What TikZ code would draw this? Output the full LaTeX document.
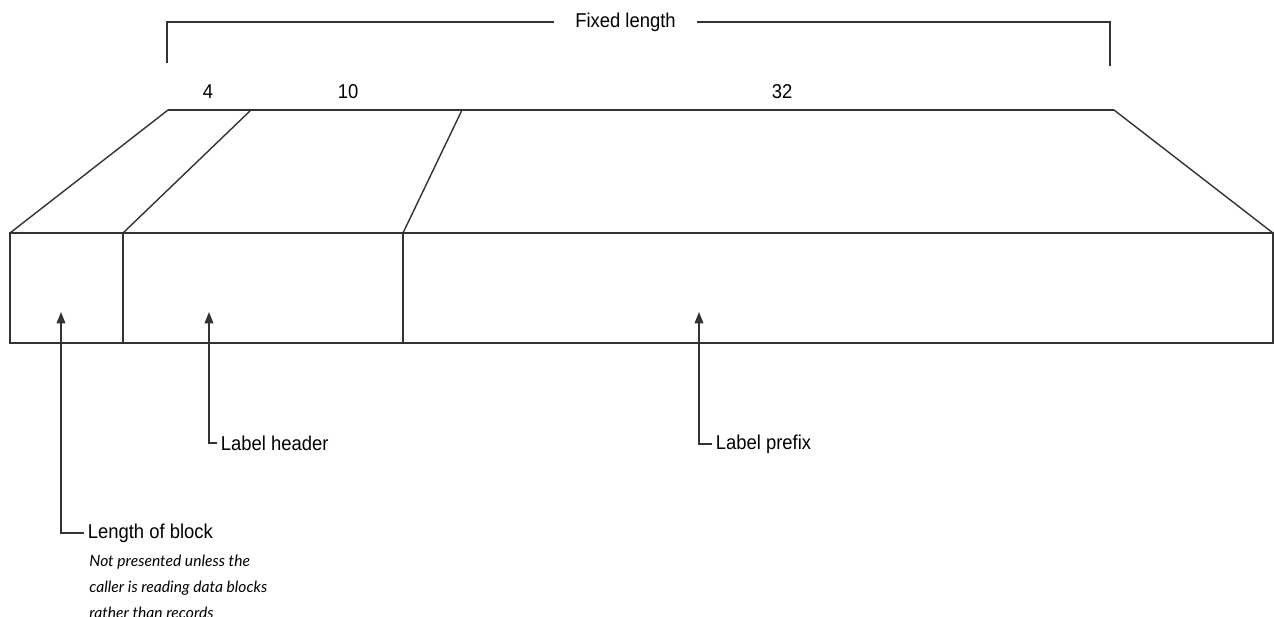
\documentclass[tikz,border=0pt]{standalone}
\usepackage{fontspec}
\setmainfont{Liberation Sans}[FakeStretch=0.92]
\newfontfamily\notefont{Lato}
\usetikzlibrary{arrows.meta,positioning}

\begin{document}
\begin{tikzpicture}[every node/.style={font=\fontsize{11.4}{13}\selectfont, inner sep=2pt},
    frame/.style={draw=black!80, line width=0.8pt},
    leader/.style={draw=black!80, line width=0.8pt, -{Triangle[width=5pt,length=6.5pt]}},
    note/.style={font=\notefont\itshape\fontsize{8.9}{14.8}\selectfont, align=left}]
    \useasboundingbox (0,0) rectangle (25.48,12.32);

    % --- СКОБКА ФИКСИРОВАННОЙ ДЛИНЫ ---
    \node[inner xsep=12pt] (fixed) at (12.51,11.88) {Fixed length};
    \coordinate (brL) at (3.34,11.06);   % Левый конец скобки
    \coordinate (brR) at (22.2,11.0);    % Правый конец скобки
    \draw[frame] (brL) |- (fixed.west);
    \draw[frame] (brR) |- (fixed.east);

    % --- ДЛИНЫ ПОЛЕЙ ---
    \node (len4) at (4.16,10.48) {4};
    \node (len10) at (6.96,10.48) {10};
    \node (len32) at (15.64,10.48) {32};

    % --- ВЕРХНЯЯ ГРАНЬ ---
    \coordinate (t0) at (3.36,10.12);
    \coordinate (t1) at (5.02,10.12);
    \coordinate (t2) at (9.24,10.12);
    \coordinate (t3) at (22.28,10.12);
    % Углы блока
    \coordinate (b0) at (0.2,7.66);
    \coordinate (b1) at (2.46,7.66);
    \coordinate (b2) at (8.06,7.66);
    \coordinate (b3) at (25.46,7.66);
    \draw[frame] (t0) -- (t3);
    \foreach \i in {0,...,3}
        \draw[frame] (t\i) -- (b\i);

    % --- БЛОК С ПОЛЯМИ ---
    \draw[frame] (b0) rectangle (25.46,5.46);
    \foreach \i in {1,2}
        \draw[frame] (b\i) -- (b\i |- 0,5.46);

    % --- ВЫНОСКИ ---
    \coordinate (tipA) at (1.22,6.08);   % Длина блока
    \coordinate (tipB) at (4.18,6.08);   % Заголовок метки
    \coordinate (tipC) at (13.98,6.08);  % Префикс метки

    \node[anchor=west] (lenblk) at (1.68,1.66) {Length of block};
    \node[note, anchor=north west] (lennote) at (1.71,1.29)
        {Not presented unless the\\caller is reading data blocks\\rather than records};
    \draw[leader] (lenblk.west) -| (tipA);

    \node[anchor=west] (header) at (4.34,3.46) {Label header};
    \draw[leader] (header.west) -| (tipB);

    \node[anchor=west] (prefix) at (14.24,3.44) {Label prefix};
    \draw[leader] (prefix.west) -| (tipC);

\end{tikzpicture}
\end{document}
